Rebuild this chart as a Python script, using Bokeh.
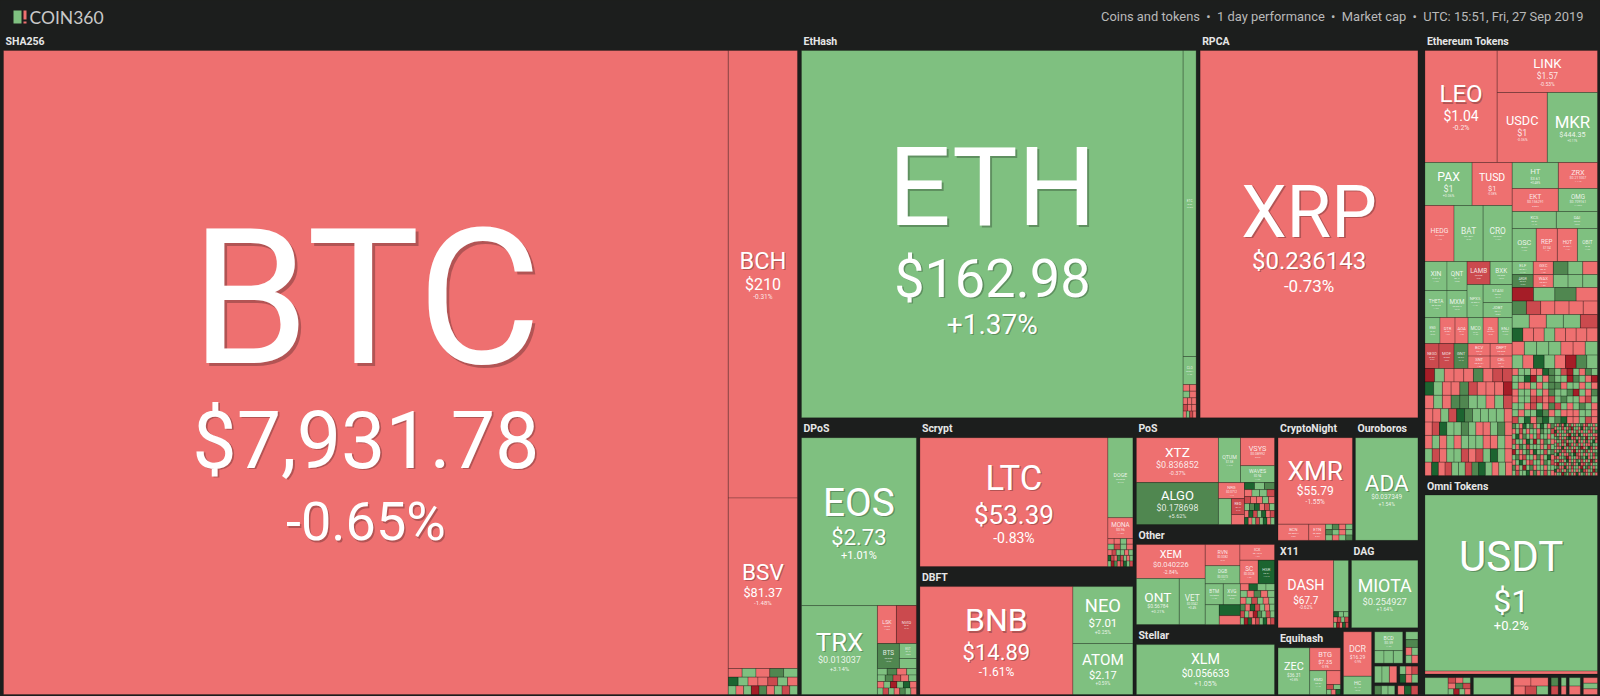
from bokeh.plotting import figure
from bokeh.models import ColumnDataSource, Range1d
from bokeh.core.properties import value
from bokeh.embed import file_html
from bokeh.resources import INLINE

# ---------- data ----------
symbols = ["BTC","BCH","BSV","ETH","ETC","CLO","XRP","EOS","TRX","LSK","NVID","BTS","EST",
           "LTC","DOGE","MONA","BNB","NEO","ATOM","XTZ","ALGO","QTUM","VSYS","WAVES","NRG","RED",
           "XEM","ONT","VET","RVN","DGB","ICX","SC","HSR","BTM","XVG","XLM","XMR","BCN","ETN","ADA",
           "DASH","MIOTA","ZEC","BTG","KMD","DCR","HC","BCD","USDT",
           "LEO","LINK","USDC","MKR","PAX","TUSD","HEDG","BAT","CRO","HT","ZRX","EKT","OMG","KCS","DAI",
           "OSC","REP","HOT","OBIT","XIN","QNT","THETA","MXM","LAMB","BXK","NPXS","STASI","JOBT",
           "ENG","DTR","AOA","MCO","ZIL","ENJ","NEXO","MOF","GNT","BCV","ORPT","SNT","CEL",
           "ELF","ARDR","GXC","WAX"]
prices = ["$7,931.78","$210","$81.37","$162.98","$5.82","$0.0041","$0.236143","$2.73","$0.013037","$0.86","$0.84","$0.038","$0.12",
          "$53.39","$0.0025","$0.96","$14.89","$7.01","$2.17","$0.836852","$0.178698","$1.58","$0.08992","$0.94","$0.0712","$0.19",
          "$0.040226","$0.56784","$0.0042","$0.0082","$0.0073","$0.1546","$0.0028","$0.31","$0.0556","$0.0039","$0.056633","$55.79","$0.00044","$0.0051","$0.037349",
          "$67.7","$0.254927","$36.31","$7.35","$0.54","$16.29","$1.12","$0.59","$1",
          "$1.04","$1.57","$1","$444.35","$1","$1","$0.2802","$0.1897","$0.0357","$3.61","$0.211007","$0.156291","$0.709161","$0.81","$0.99",
          "$0.052","$7.04","$0.00011","$0.58","$104.2","$8.41","$0.0768","$0.0019","$0.028","$0.086","$0.00012","$0.99","$0.41",
          "$0.33","$0.084","$0.44","$2.31","$0.0102","$0.049","$0.097","$0.038","$0.047","$0.72","$0.035","$0.0121","$0.11",
          "$0.071","$0.049","$0.31","$0.024"]
changes = [-0.65,-0.31,-1.48,1.37,0.92,1.2,-0.73,1.01,3.14,-1.22,-5.1,6.2,0.8,
           -0.83,0.74,-1.12,-1.61,0.25,0.59,-0.37,5.62,1.24,-0.9,1.3,-1.1,-5.4,
           -2.84,0.21,0.4,-0.7,1.1,-1.2,-1.9,12.4,1.3,0.6,1.05,-1.55,-0.8,-0.6,1.54,
           -0.62,1.64,0.8,-0.9,1.1,-0.9,0.7,1.3,0.2,
           -0.2,-0.53,-0.06,0.11,0.06,-0.08,-1.4,0.9,1.2,0.48,-1.11,-0.86,1.29,1.1,0.3,
           1.3,-1.4,-1.1,1.2,1.2,0.8,1.3,0.7,-5.8,0.9,1.4,0.1,0.8,
           0.9,-1.2,-1.3,1.6,-0.9,1.2,-5.2,-5.5,6.1,-1.7,-1.1,-1.5,-1.6,
           1.1,6.3,-1.2,-1.8]
caps = [465600,30878,11765,139812,3965,364,79788,19320,6764,722,760,550,255,
        24252,2000,525,16524,3420,3060,3690,3444,990,952,578,416,208,
        2346,1978,1196,735,630,544,432,384,378,357,6900,6450,496,272,6426,
        3752,4489,1504,713,408,1276,522,540,30272,
        8064,4200,3500,3500,2021,1720,1624,1624,1624,1196,1014,1058,897,748,697,
        792,693,660,660,638,580,594,540,529,506,528,522,435,
        390,390,338,390,390,364,350,375,350,275,275,275,275,
        273,273,260,260]

# unlabelled small coins: size and rows of 1-day changes
tails = {
 "sha": (1794, [[-1,1,-1,6,1],[12,1,-1,-1,-5,1,-1],[1,-1,1,-12,6,-1,1,-5,1]]),
 "eth": (429, [[-1,-1],[1,-1],[-1,-1,-1],[-5,-1,-1],[-1,1,-5,-1]]),
 "dpos_g": (170, [[1]]),
 "dpos": (1014, [[1,6,-1,1],[1,6,-5,-1,1],[-1,1,-12,1,12,-1],[1,-5,1,-1,6,1,-1]]),
 "ltc": (700, [[-1,-1,1,-1],[1,-5,1,-1],[-1,-5,1,1,-1,1],[12,-5,-1,8,-5,1,-1,1],[1,-12,6,-1,-5,12,1,-5]]),
 "pos_g": (338, [[1]]),
 "pos_r": (130, [[-1]]),
 "pos": (1260, [[12,1,6],[-1,1,1,-5],[-5,-1,-1,1,-1],[1,6,12,-1,-5,1],[-1,12,-5,1,12,-1,-5],[12,-1,1,-5,1,12,-1,1]]),
 "oth_g": (280, [[1]]),
 "oth_d": (231, [[12]]),
 "oth_r": (189, [[-1]]),
 "oth": (1394, [[-1,12,1,1],[1,-1,6,-1,1],[-1,1,-5,1,-1,1],[6,-1,12,-5,1,-1,1],[-5,1,-1,-12,6,1,-5,1],[1,-12,12,-1,-5,1,12,-1,-5]]),
 "xmr": (432, [[1,6,-1,1],[6,1,-1,1],[1,-1,1,6]]),
 "x11_g": (765, [[1]]),
 "x11": (240, [[12,1,1],[-1,-5,1,-5],[1,-12,-1,12,-5]]),
 "zec_r": (196, [[-1]]),
 "zec": (140, [[-5,1],[1,-1,12]]),
 "bcd": (360, [[1,1,1]]),
 "m_a": (390, [[1],[6],[-1,1],[1,-1]]),
 "m_b": (374, [[1,1,-1]]),
 "m_c": (306, [[1,-1,-5],[12,-1,1]]),
 "m_d": (180, [[6,1,1]]),
 "m_e": (180, [[-1,12,-5]]),
 "omni": (516, [[-1]]),
 "b_a": (391, [[1]]),
 "b_b": (374, [[-5,-1,1],[-1,6,-5],[1,-12,1,-1]]),
 "b_c": (629, [[1]]),
 "b_d": (578, [[-1,-1],[-1,-5,1]]),
 "b_e": (119, [[6],[-5]]),
 "b_f": (85, [[1],[-1]]),
 "b_g": (187, [[1],[-1]]),
 "b_h": (238, [[-1],[1],[-1]]),
 "e_top": (1144, [[6,1,-1],[1,1,1]]),
 "e_r3": (6885, [[-12,1,6,-1],[6,-5,-1,-1,-1,-1],[1,-1,1,1,-5],[12,-1,-1,1,-1,-1,-1,-1],[-1,1,1,1,-1,-1,1],[1,-1,12,1,-1,-12,6,1]]),
 "e_l4": (9309, [
   [-12,1,-1,-1,-1,6,-1,-5,-5],
   [12,1,-1,-1,6,-5,-1,-1,-1,-12],
   [-1,1,-1,6,6,1,1,-1,1,-5],
   [-1,-1,1,-5,12,6,1,1,1,1,-1],
   [-1,-5,12,1,1,6,1,-1,-1,1,6,-1],
   [-1,1,-1,1,-1,1,1,1,-1,-1,1,-1],
   [1,-5,-1,1,1,-5,-1,-5,1,12,1,-1],
   [-1,12,-1,-5,1,1,-5,6,12,1,-1,1,-1]]),
 "e_r4": (4675, [
   [-1,1,1,-1,-1,12,6,1,-5,-12,1,-1,6,1],
   [1,1,12,-12,1,-1,6,1,1,-12,6,1,-1,-12],
   [1,-1,-1,1,-1,1,6,6,-1,1,1,-1,1,-1],
   [-1,1,1,-1,1,-1,6,1,1,6,-12,1,-1,6],
   [-1,1,1,-5,-5,-1,-5,1,6,1,1,-1,-5,1],
   [1,1,-1,-5,1,-1,6,-5,1,-1,1,6,1,-1],
   [1,-1,1,1,12,6,-1,1,-1,-1,-1,1,1,-1],
   [-5,1,12,-1,6,12,1,6,12,-1,-1,1,-5,-1]]),
 "e_r5": (2184, [
   [6,1,-1,12,1,6,-1,1,12,1,-1,6],
   [-1,1,-5,1,-1,1,1,-1,6,1,1,-5],
   [1,12,-1,6,1,-1,1,-5,1,1,-1,1],
   [-5,1,1,-1,12,1,-12,1,-1,6,1,-1],
   [1,-1,6,1,-5,1,1,1,-1,1,-5,1],
   [-12,1,-1,1,6,-1,12,1,1,-5,1,6],
   [1,6,-1,-5,1,1,-1,6,-1,1,12,-1],
   [-1,1,12,1,-1,-5,1,1,-1,6,1,-5],
   [6,-1,1,-12,1,6,-1,1,1,-1,1,1],
   [1,-5,1,1,12,-1,6,-1,1,-5,1,-1]]),
 "e_r6": (2236, [
   [1,-1,6,-1,12,1,-5,1,-1,1,1,6,-1,-5,1,1,-1,1],
   [-1,1,1,-5,1,-1,6,-12,1,1,-1,12,-1,1,6,-1,1,-1],
   [12,-1,1,1,-1,6,1,-1,1,-5,1,-1,1,1,-1,-5,1,6],
   [-5,1,-1,1,1,-1,-12,1,6,-1,12,1,-1,-1,1,1,-1,-1],
   [1,6,-1,1,-1,6,12,-1,-5,1,-1,6,1,-12,1,-1,1,-5],
   [-1,1,1,-5,6,-1,1,1,-1,12,-1,1,-1,6,-1,1,12,-1],
   [1,-5,1,-1,1,-12,6,-1,1,-5,1,-1,1,-1,-1,6,1,1],
   [1,-1,-1,12,-1,1,-5,1,-1,1,6,-12,-1,1,12,-5,1,-1],
   [-1,1,6,-1,-5,1,1,-1,-12,1,-1,1,6,-5,1,-1,1,1],
   [1,12,-1,1,-1,-1,6,1,12,-5,-1,1,-1,1,-1,1,-5,6],
   [-5,-1,1,1,6,-12,-1,1,1,-1,-5,6,1,12,-1,1,-1,1],
   [1,1,-5,-1,1,12,-1,1,-1,6,1,-5,1,-1,1,-12,6,-1],
   [-1,-12,1,1,-5,1,-1,6,-1,1,12,-1,-5,1,6,-1,1,1],
   [1,6,-1,-1,12,-1,1,-5,1,1,-1,-12,1,6,-5,1,-1,1],
   [12,-1,-5,1,-1,6,1,-1,1,-1,1,12,-5,-1,1,1,-12,6],
   [-1,1,1,-12,6,1,-5,1,-1,12,-1,1,6,-1,1,-5,1,-1]]),
}

groups_header = "Coins and tokens\u00a0\u00a0\u2022\u00a0\u00a01 day performance\u00a0\u00a0\u2022\u00a0\u00a0Market cap\u00a0\u00a0\u2022\u00a0\u00a0UTC: 15:51, Fri, 27 Sep 2019"
logo_text = "COIN360"

# ---------- label sizes (px): symbol, price, change ----------
label_px = {"BTC":(181,79,54),"ETH":(105,54,28),"XRP":(69,24,17),"BCH":(22.5,16,6.5),"BSV":(21.5,12.7,6),
 "EOS":(37,22,11),"TRX":(24.5,9,6),"LTC":(33,26,14),"BNB":(30.5,22,12),"NEO":(17.5,11.5,5),"ATOM":(14.5,11,4.5),
 "XTZ":(13,9,5.5),"ALGO":(12.4,8.8,5.5),"XEM":(10.2,7.5,5),"ONT":(13,5,4),"VET":(8,3,3),"XLM":(13.6,10,7),
 "XMR":(25,12,6.5),"ADA":(21.5,6.5,5),"DASH":(13.6,10,4.5),"MIOTA":(17,9.3,5),"ZEC":(10.4,4.5,3),"BTG":(7,5.5,3),
 "DCR":(8.5,5,3),"USDT":(40,32,13),"LEO":(23,14,7),"LINK":(12.4,8.5,5),"USDC":(12.1,9,3.5),"MKR":(16,7.2,3),
 "PAX":(11.7,9,3.5),"TUSD":(10,7.5,3),"HT":(7.5,4,3),"ZRX":(7,3.5,2.5),"EKT":(6.5,3.5,2.5),"OMG":(6,3.5,2.5),
 "KCS":(4,2.5,2),"DAI":(4,2.5,2),"OSC":(7,2,2),"REP":(6,3,2),"HOT":(4.5,2,2),"OBIT":(4.5,2,2),"HEDG":(6.5,2.5,2),
 "BAT":(8,2.5,2),"CRO":(8,2.5,2),"XIN":(6.5,2.5,2),"QNT":(6,2.5,2),"LAMB":(6,2.5,2),"BXK":(6,2.5,2),"THETA":(4.5,2.5,2),
 "MXM":(6,2.5,2),"NPXS":(4,2,2),"STASI":(4,2.5,2),"JOBT":(4,2.5,2),"ENG":(3,2,2),"DTR":(4,2,2),"AOA":(4,2,2),
 "MCO":(4.5,2,2),"ZIL":(4,2,2),"ENJ":(4,2,2),"NEXO":(3.5,2,2),"MOF":(4,2,2),"GNT":(4,2,2),"BCV":(4,2.5,2),
 "ORPT":(4,2.5,2),"SNT":(4,2.5,2),"CEL":(4,2.5,2),"QTUM":(5,3,2),"VSYS":(7,3.5,2.5),"WAVES":(5,3,2),"NRG":(4,3,2),
 "RED":(3.5,2,2),"RVN":(5,3,2),"DGB":(4.5,3,2),"BTM":(4.5,2.5,2),"XVG":(4.5,2.5,2),"ICX":(4,2.5,2),"SC":(6,3,2),
 "HSR":(4,2.5,2),"DOGE":(5,2.5,2),"MONA":(6,3.5,2.5),"LSK":(5,2.5,2),"NVID":(4,2,2),"BTS":(6,2.5,2),"EST":(3,2,2),
 "BCN":(4,2.5,2),"ETN":(4,2.5,2),"KMD":(4,2.5,2),"HC":(5,2.5,2),"BCD":(5,3.5,2),"ETC":(3,2,2),"CLO":(3,2,2),
 "ELF":(4,2.5,2),"ARDR":(3,2,2),"GXC":(4,2.5,2),"WAX":(4,2.5,2)}

info = {s:(p,c,a) for s,p,c,a in zip(symbols,prices,changes,caps)}

# ---------- treemap tree ----------
def leaf(s): return {"t":"leaf","s":s}
def tail(k): return {"t":"tail","k":k}
def row(*ch,gap=0): return {"t":"row","ch":list(ch),"gap":gap}
def col(*ch,gap=0): return {"t":"col","ch":list(ch),"gap":gap}
def grp(name,ch,header=16): return {"t":"grp","name":name,"ch":ch,"header":header}
L=leaf; T=tail

sha = grp("SHA256", row(L("BTC"), col(L("BCH"),L("BSV"),T("sha"))))
ethash = grp("EtHash", row(L("ETH"), col(L("ETC"),L("CLO"),T("eth"))))
rpca = grp("RPCA", L("XRP"))
dpos = grp("DPoS", col(L("EOS"), row(L("TRX"), col(row(L("LSK"),L("NVID")),
        row(L("BTS"),col(L("EST"),T("dpos_g"))), T("dpos")))))
scrypt = grp("Scrypt", row(L("LTC"), col(L("DOGE"),L("MONA"),T("ltc"))))
dbft = grp("DBFT", row(L("BNB"), col(L("NEO"),L("ATOM"))))
pos = grp("PoS", row(col(L("XTZ"),L("ALGO")),
        col(row(L("QTUM"),col(L("VSYS"),L("WAVES"))),
            row(col(L("NRG"),row(T("pos_g"),col(L("RED"),T("pos_r")))),T("pos")))))
other = grp("Other", row(col(L("XEM"),row(L("ONT"),L("VET"))),
        col(row(col(L("RVN"),L("DGB")),col(L("ICX"),row(L("SC"),L("HSR")))),
            row(col(row(L("BTM"),L("XVG")),row(T("oth_g"),col(T("oth_d"),T("oth_r")))),T("oth")))))
stellar = grp("Stellar", L("XLM"))
crypton = grp("CryptoNight", col(L("XMR"),row(L("BCN"),L("ETN"),T("xmr"))))
ouro = grp("Ouroboros", L("ADA"))
x11 = grp("X11", row(L("DASH"),col(T("x11_g"),T("x11"))))
dag = grp("DAG", L("MIOTA"))
equi = grp("Equihash", row(L("ZEC"),col(L("BTG"),row(L("KMD"),col(T("zec_r"),T("zec"))))))
minis = row(col(L("DCR"),L("HC")),
            col(row(col(L("BCD"),T("bcd")),T("m_a"),gap=3),
                row(T("m_b"),T("m_c"),gap=3),
                row(T("m_d"),T("m_e"),gap=3),gap=3),gap=3)
mid = col(row(ethash,rpca,gap=4),
          row(dpos,col(scrypt,dbft,gap=4),col(pos,other,stellar,gap=4),
              col(row(crypton,ouro,gap=3),row(x11,dag,gap=3),row(equi,minis,gap=3),gap=4),gap=3.5),gap=4)
eth_tokens = grp("Ethereum Tokens", col(
    row(L("LEO"),col(L("LINK"),row(L("USDC"),L("MKR")))),
    row(col(row(L("PAX"),L("TUSD")),row(L("HEDG"),L("BAT"),L("CRO"))),
        col(row(L("HT"),L("ZRX")),row(L("EKT"),L("OMG")),row(L("KCS"),L("DAI")),
            row(L("OSC"),L("REP"),L("HOT"),L("OBIT")))),
    row(col(row(col(row(L("XIN"),L("QNT")),row(L("THETA"),L("MXM"))),
                col(row(L("LAMB"),L("BXK")),row(L("NPXS"),col(L("STASI"),L("JOBT"))))),
            row(L("ENG"),L("DTR"),L("AOA"),L("MCO"),L("ZIL"),L("ENJ")),
            row(L("NEXO"),L("MOF"),L("GNT"),col(row(L("BCV"),L("ORPT")),row(L("SNT"),L("CEL"))))),
        col(row(col(L("ELF"),L("ARDR")),col(L("GXC"),L("WAX")),T("e_top")),T("e_r3"))),
    row(T("e_l4"),col(T("e_r4"),row(T("e_r5"),T("e_r6"))))))
omni = grp("Omni Tokens", col(L("USDT"),T("omni")))
bottom = row(row(T("b_a"),T("b_b")),T("b_c"),T("b_d"),T("b_e"),T("b_f"),T("b_g"),T("b_h"),gap=3)
right = col(eth_tokens,omni,bottom,gap=3.5)
root = row(row(sha,mid,gap=4),right,gap=7)

# ---------- layout ----------
def area(n):
    t=n["t"]
    if t=="leaf": return info[n["s"]][2]
    if t=="tail": return tails[n["k"]][0]
    if t=="grp": return area(n["ch"])
    return sum(area(c) for c in n["ch"])
def vch(n):
    t=n["t"]
    if t in("leaf","tail"): return 0
    if t=="grp": return n["header"]+vch(n["ch"])
    if t=="col": return sum(vch(c) for c in n["ch"])+n["gap"]*(len(n["ch"])-1)
    return sum(area(c)*vch(c) for c in n["ch"])/area(n)
def hch(n):
    t=n["t"]
    if t in("leaf","tail"): return 0
    if t=="grp": return hch(n["ch"])
    if t=="row": return sum(hch(c) for c in n["ch"])+n["gap"]*(len(n["ch"])-1)
    return sum(area(c)*hch(c) for c in n["ch"])/area(n)

BG="#1c1e1d"
def color(c):
    a=abs(c)
    if c<0:
        return "#ee7070" if a<4 else "#cb4a4e" if a<7 else "#b32a30" if a<11 else "#a51d27"
    return "#7fc080" if a<4 else "#508750" if a<7 else "#3c7a42" if a<11 else "#1c6430"

cells=dict(l=[],r=[],t=[],b=[],c=[])
labels=[]
heads=[]
def add(x0,y0,x1,y1,c):
    cells["l"].append(x0);cells["r"].append(x1);cells["t"].append(y0);cells["b"].append(y1);cells["c"].append(color(c))

def layout(n,x0,y0,x1,y1):
    t=n["t"]
    if t=="leaf":
        add(x0,y0,x1,y1,info[n["s"]][1]); labels.append((n["s"],x0,y0,x1,y1))
    elif t=="tail":
        rows=tails[n["k"]][1]; rh=(y1-y0)/len(rows)
        for i,r in enumerate(rows):
            w=(x1-x0)/len(r)
            for j,c in enumerate(r):
                add(x0+j*w,y0+i*rh,x0+(j+1)*w,y0+(i+1)*rh,c)
    elif t=="grp":
        heads.append((n["name"],x0,y0+n["header"]))
        layout(n["ch"],x0,y0+n["header"],x1,y1)
    elif t=="row":
        H=y1-y0; ch=n["ch"]
        es=[area(c)/(H-vch(c)) for c in ch]; hs=[hch(c) for c in ch]
        avail=(x1-x0)-n["gap"]*(len(ch)-1)-sum(hs); k=avail/sum(es); x=x0
        for c,e,h in zip(ch,es,hs):
            w=h+e*k; layout(c,x,y0,x+w,y1); x+=w+n["gap"]
    else:
        W=x1-x0; ch=n["ch"]
        es=[area(c)/(W-hch(c)) for c in ch]; vs=[vch(c) for c in ch]
        avail=(y1-y0)-n["gap"]*(len(ch)-1)-sum(vs); k=avail/sum(es); y=y0
        for c,e,v in zip(ch,es,vs):
            h=v+e*k; layout(c,x0,y,x1,y+h); y+=h+n["gap"]

layout(root,3,34,1597,694)

# ---------- drawing ----------
p=figure(width=1600,height=696,x_range=Range1d(0,1600),y_range=Range1d(696,0),
         toolbar_location=None,output_backend="svg",min_border=0,background_fill_color=BG,
         border_fill_color=BG,outline_line_color=None)
p.axis.visible=False; p.grid.visible=False
p.quad(left="l",right="r",top="t",bottom="b",fill_color="c",line_color="#000000",line_alpha=0.22,line_width=1,
       source=ColumnDataSource(cells))

def fmt_pct(c):
    s=f"{c:+.2f}".rstrip("0").rstrip(".")
    return s+"%"

BL=0.36   # lift of the text anchor above its baseline, in font sizes
SYM=1.05  # symbols are drawn a little wider than the price digits
txt=dict(x=[],y=[],t=[],s=[],a=[])
shd=dict(x=[],y=[],t=[],s=[])
def put(x,y,t,px):
    y=y-BL*px
    txt["x"].append(x);txt["y"].append(y);txt["t"].append(t);txt["s"].append(f"{px:.2f}px")
    txt["a"].append(1.0 if px>=10 else 0.85)
    if px>=20:
        o=1+px*0.01
        shd["x"].append(x+o);shd["y"].append(y+o);shd["t"].append(t);shd["s"].append(f"{px:.2f}px")
for s,x0,y0,x1,y1 in labels:
    sp,pp,cp=label_px[s]
    cx=(x0+x1)/2; cy=(y0+y1)/2
    F=sp+pp+cp
    ys=cy-0.665*F+1.12*sp; yp=ys+1.3*pp; yc=yp+1.33*cp
    put(cx,ys,s,sp*SYM); put(cx,yp,info[s][0],pp); put(cx,yc,fmt_pct(info[s][1]),cp)
p.text(x="x",y="y",text="t",text_font_size="s",text_font=value("Roboto"),text_align="center",
       text_baseline="alphabetic",text_color="#000000",text_alpha=0.25,source=ColumnDataSource(shd))
p.text(x="x",y="y",text="t",text_font_size="s",text_alpha="a",text_font=value("Roboto"),text_align="center",
       text_baseline="alphabetic",text_color="#ffffff",source=ColumnDataSource(txt))

p.text(x=[h[1]+2 for h in heads],y=[h[2]-5-BL*10.5 for h in heads],text=[h[0] for h in heads],text_font=value("Roboto"),
       text_font_size="10.5px",text_font_style="bold",text_color="#e6e6e6",text_baseline="alphabetic")

# logo and page heading
p.quad(left=[13],right=[21],top=[10],bottom=[23],fill_color="#7fc080",line_color=None)
p.quad(left=[23,23],right=[26,26],top=[10,21],bottom=[19,23],fill_color="#ee7070",line_color=None)
p.text(x=[29],y=[23.5-BL*17.5],text=[logo_text],text_font=value("Lato"),text_font_size="17.5px",text_color="#c9c9c9",
       text_baseline="alphabetic")
p.text(x=[1583],y=[21-BL*12.9],text=[groups_header],text_font=value("Roboto"),text_font_size="12.9px",text_color="#b9b9b9",
       text_align="right",text_baseline="alphabetic")

tpl="""{% block postamble %}<style>html,body{background:#1c1e1d}</style>{% endblock %}"""
open("out.html","w").write(file_html(p,INLINE,template=tpl))
